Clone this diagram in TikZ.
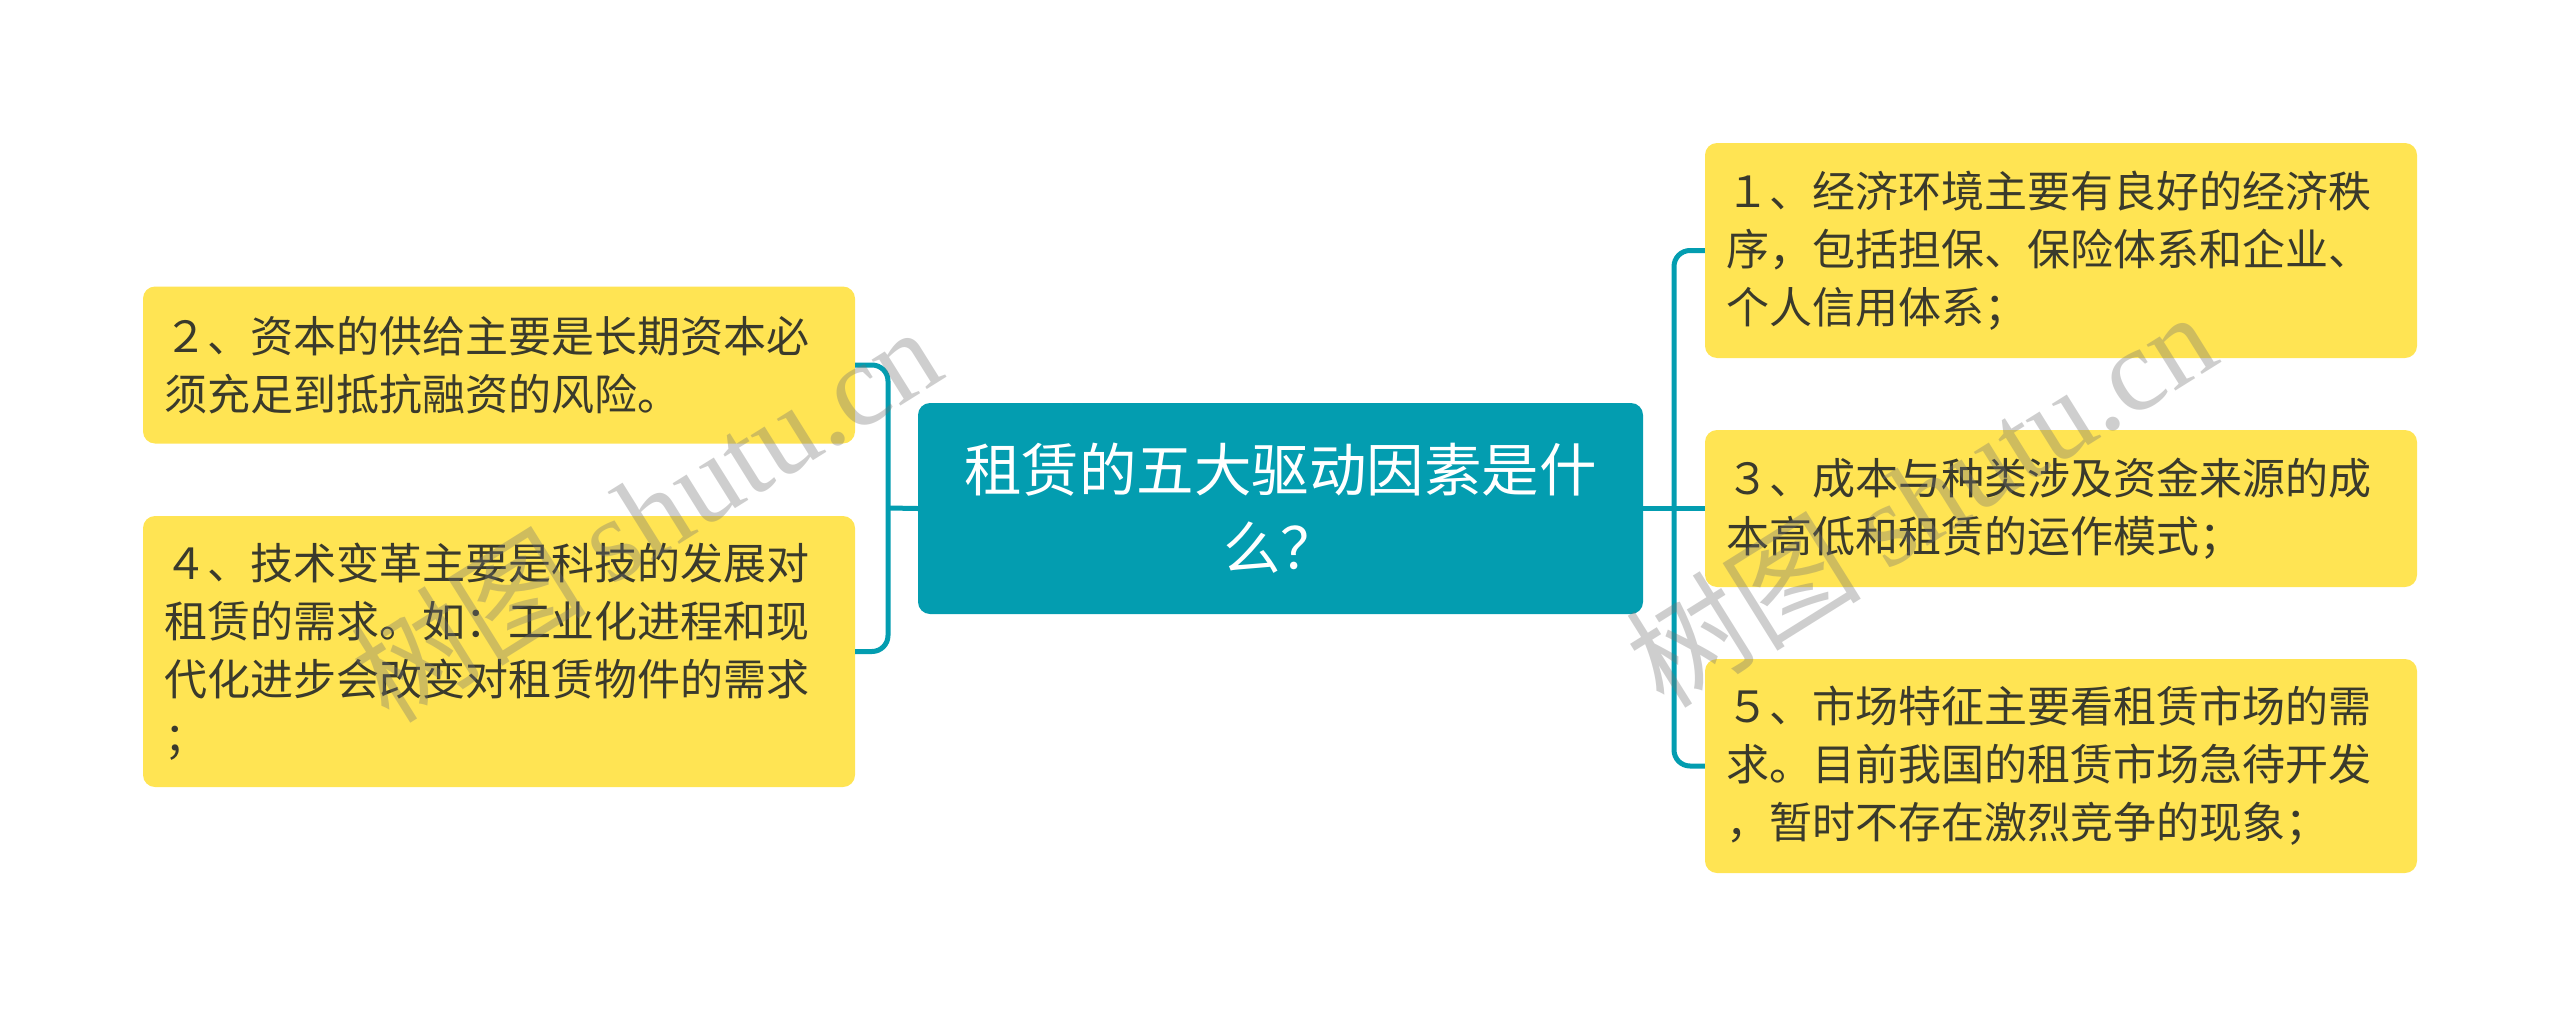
\documentclass[tikz,border=0pt]{standalone}
\usepackage{fontspec}
\setmainfont{Noto Sans CJK SC}
\newfontfamily\wmfont{Liberation Serif}
\definecolor{rootteal}{HTML}{039DB0}
\definecolor{leafyellow}{HTML}{FFE453}
\definecolor{leaftext}{HTML}{3A3A2C}
\tikzset{
    leaf/.style={fill=leafyellow, text=leaftext, rounded corners=12pt, inner xsep=21pt, inner ysep=0pt, text width=670pt, align=left, font=\fontsize{43}{58}\selectfont},
    root/.style={fill=rootteal, text=white, rounded corners=12pt, inner sep=0pt, minimum width=725pt, minimum height=211pt, align=center, font=\fontsize{57.5}{78}\selectfont},
    link/.style={draw=rootteal, line width=5pt},
    watermark/.style={text=black!55, opacity=0.35, rotate=32, font=\fontsize{118}{118}\selectfont}
}
\begin{document}
\begin{tikzpicture}[x=1pt,y=-1pt]
                \useasboundingbox (0,0) rectangle (2560,1017);
                \coordinate (trunkL) at (888,508);
                \coordinate (trunkR) at (1674,508);

                \node[root] (drivers) at (1280.5,508.5) {租赁的五大驱动因素是什\\么？};
                \node[leaf, minimum height=157pt] (capital) at (499,365) {２、资本的供给主要是长期资本必\\须充足到抵抗融资的风险。};
                \node[leaf, minimum height=271pt] (tech) at (499,651.5) {４、技术变革主要是科技的发展对\\租赁的需求。如：工业化进程和现\\代化进步会改变对租赁物件的需求\\；};
                \node[leaf, minimum height=215pt] (economy) at (2061,250.5) {１、经济环境主要有良好的经济秩\\序，包括担保、保险体系和企业、\\个人信用体系；};
                \node[leaf, minimum height=157pt] (cost) at (2061,508.5) {３、成本与种类涉及资金来源的成\\本高低和租赁的运作模式；};
                \node[leaf, minimum height=214pt] (market) at (2061,766) {５、市场特征主要看租赁市场的需\\求。目前我国的租赁市场急待开发\\，暂时不存在激烈竞争的现象；};

                \draw[link] (drivers.west) to (trunkL); \draw[link, rounded corners=16pt] (capital.east) -| (trunkL) |- (tech.east);
                \draw[link] (drivers.east) to (cost.west); \draw[link, rounded corners=16pt] (economy.west) -| (trunkR) |- (market.west);

                \node[watermark] (markL) at (645,513) {树图 {\wmfont shutu.cn}};
                \node[watermark] (markR) at (1920,498) {树图 {\wmfont shutu.cn}};
            \end{tikzpicture}
\end{document}
